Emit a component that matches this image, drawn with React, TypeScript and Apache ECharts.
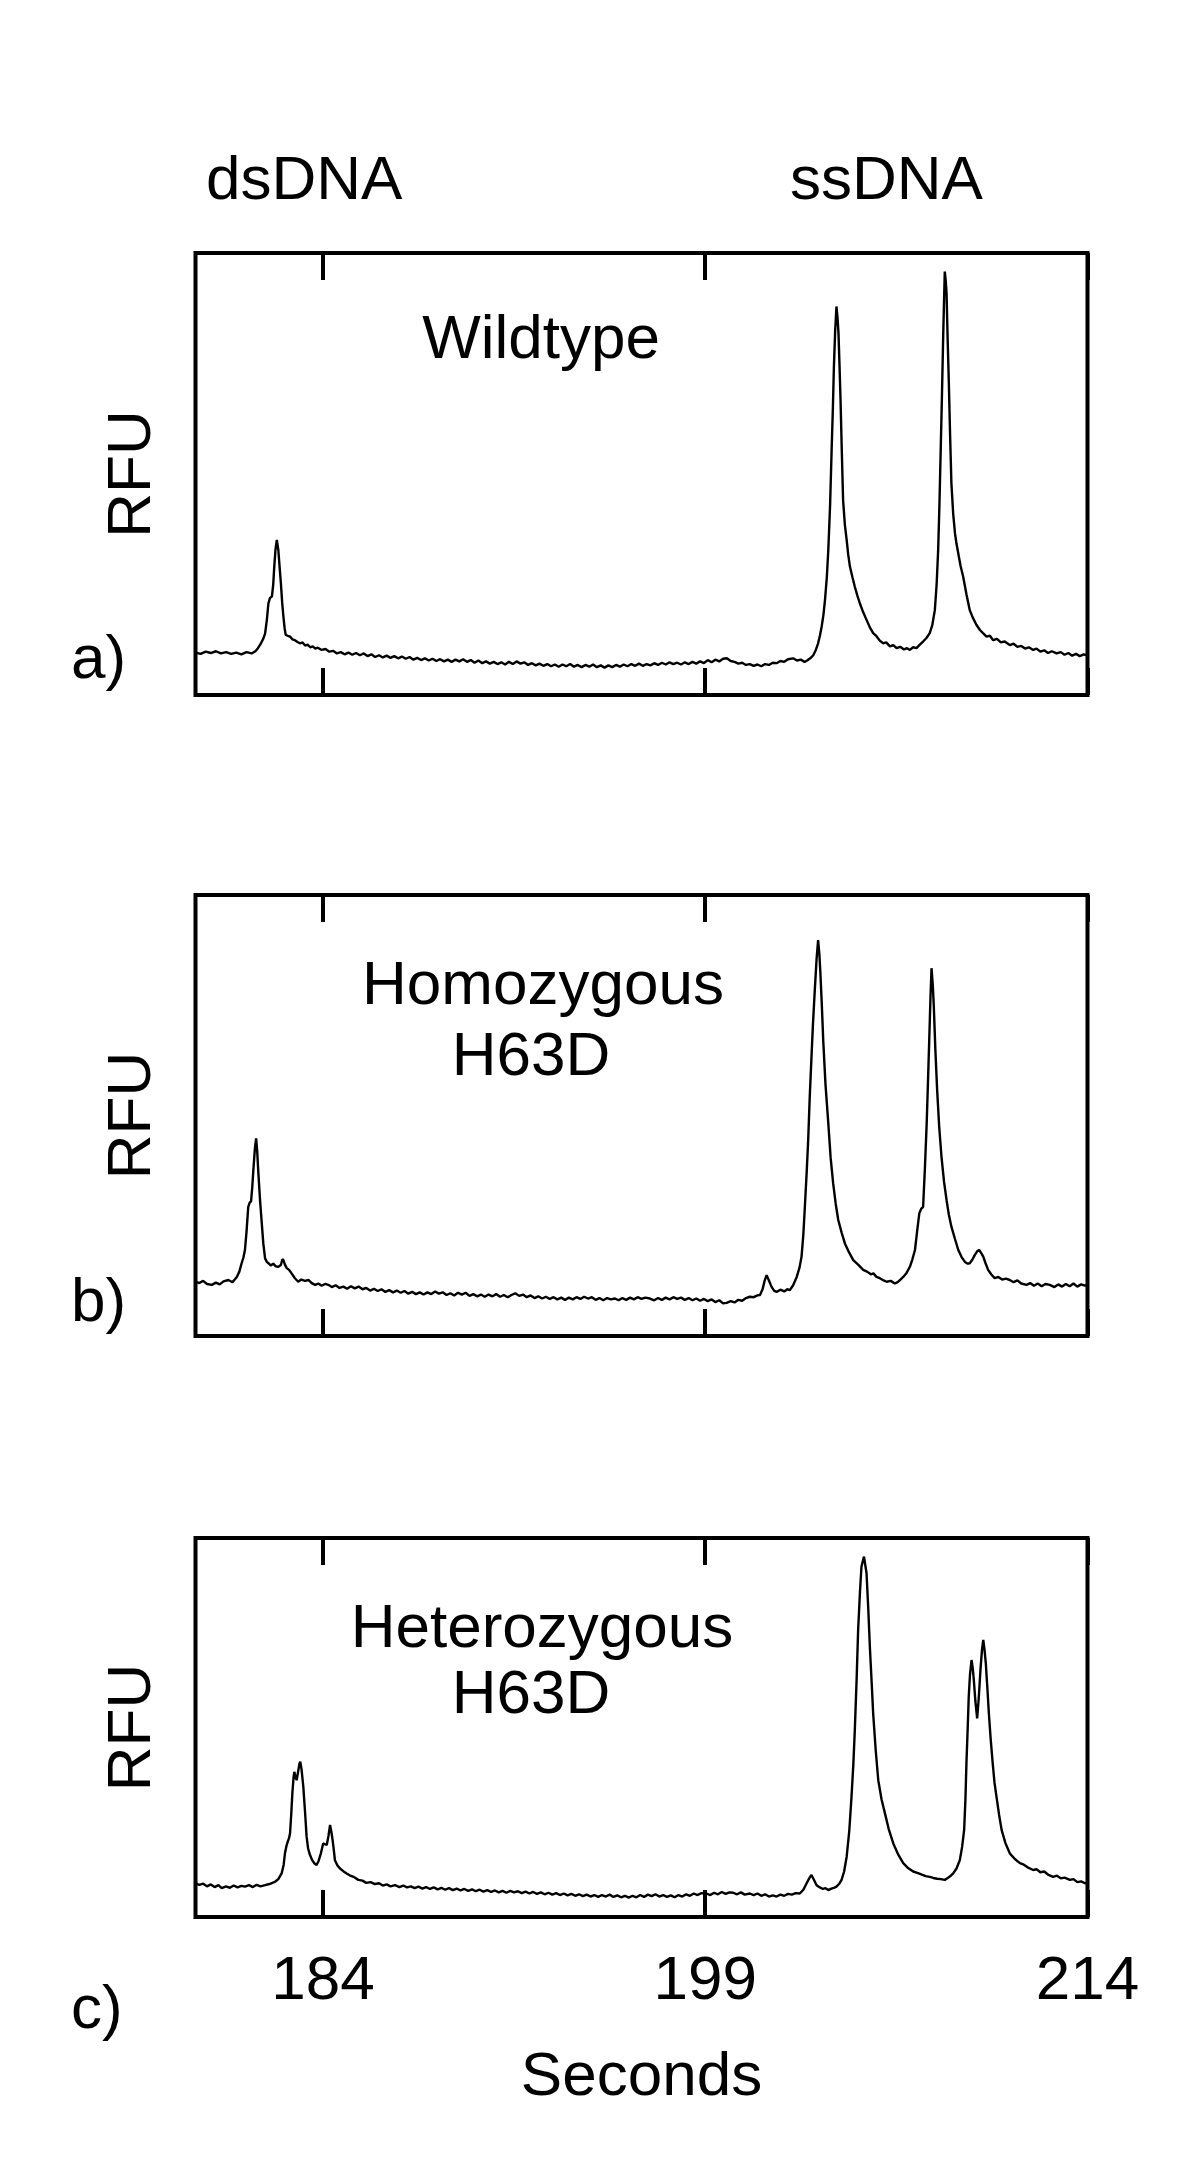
import React, { useEffect, useRef } from "react";
import * as echarts from "echarts";

const X_MIN = 179;
const X_MAX = 214;
const tickSeconds = [184, 199, 214];
const peakLabels = ["dsDNA", "ssDNA"];
const panelLetters = ["a)", "b)", "c)"];
const sampleNames = [["Wildtype"], ["Homozygous", "H63D"], ["Heterozygous", "H63D"]];

// [seconds, RFU (relative, 0-100 of panel height)]
const wildtype: [number, number][] = [
  [179.0, 9.6], [179.2, 9.3], [179.4, 9.8], [179.6, 9.5], [179.8, 9.9], [180.0, 9.4], [180.2, 9.7], [180.4, 9.3],
  [180.6, 9.6], [180.8, 9.2], [181.0, 9.7], [181.2, 9.4], [181.35, 9.9], [181.45, 10.6], [181.55, 11.5], [181.65, 12.6],
  [181.73, 13.9], [181.8, 17.0], [181.86, 20.7], [181.92, 21.9], [182.0, 22.3], [182.05, 25.0], [182.09, 29.0], [182.14, 33.0],
  [182.19, 35.1], [182.25, 32.8], [182.3, 29.0], [182.35, 25.3], [182.4, 21.0], [182.45, 17.7], [182.5, 15.0], [182.54, 13.6],
  [182.62, 13.4], [182.71, 13.2], [182.8, 12.6], [182.9, 12.4], [183.0, 12.0], [183.1, 11.7], [183.2, 11.9], [183.3, 11.2],
  [183.4, 11.4], [183.5, 10.8], [183.6, 11.0], [183.7, 10.5], [183.8, 10.7], [183.95, 10.2], [184.1, 10.4], [184.25, 9.8],
  [184.4, 10.0], [184.55, 9.4], [184.7, 9.7], [184.85, 9.2], [185.0, 9.6], [185.15, 9.1], [185.3, 9.5], [185.45, 9.0],
  [185.6, 9.4], [185.75, 8.8], [185.9, 9.2], [186.05, 8.6], [186.2, 9.0], [186.35, 8.5], [186.5, 8.9], [186.65, 8.4],
  [186.8, 8.8], [186.95, 8.3], [187.1, 8.7], [187.25, 8.2], [187.4, 8.6], [187.55, 8.0], [187.7, 8.4], [187.85, 7.9],
  [188.0, 8.3], [188.15, 7.8], [188.3, 8.2], [188.45, 7.7], [188.6, 8.1], [188.75, 7.6], [188.9, 8.0], [189.05, 7.5],
  [189.2, 8.0], [189.35, 7.6], [189.5, 8.1], [189.65, 7.5], [189.8, 7.9], [189.95, 7.3], [190.1, 7.8], [190.25, 7.2],
  [190.4, 7.6], [190.55, 7.1], [190.7, 7.5], [190.85, 7.0], [191.0, 7.4], [191.15, 6.9], [191.3, 7.5], [191.45, 7.0],
  [191.6, 7.6], [191.75, 7.1], [191.9, 7.4], [192.05, 6.8], [192.2, 7.2], [192.35, 6.7], [192.5, 7.1], [192.65, 6.6],
  [192.8, 7.0], [192.95, 6.5], [193.1, 6.9], [193.25, 6.4], [193.4, 6.9], [193.55, 6.5], [193.7, 7.0], [193.85, 6.4],
  [194.0, 6.8], [194.15, 6.3], [194.3, 6.8], [194.45, 6.4], [194.6, 6.9], [194.75, 6.3], [194.9, 6.7], [195.05, 6.2],
  [195.2, 6.7], [195.35, 6.3], [195.5, 6.8], [195.65, 6.4], [195.8, 6.9], [195.95, 6.5], [196.1, 7.0], [196.25, 6.6],
  [196.4, 7.1], [196.55, 6.6], [196.7, 7.0], [196.85, 6.7], [197.0, 7.2], [197.15, 6.8], [197.3, 7.3], [197.45, 6.9],
  [197.6, 7.4], [197.75, 7.0], [197.9, 7.3], [198.05, 6.9], [198.2, 7.4], [198.35, 7.0], [198.5, 7.5], [198.65, 7.1],
  [198.8, 7.6], [198.95, 7.2], [199.1, 7.9], [199.25, 7.4], [199.4, 8.0], [199.55, 7.6], [199.7, 8.2], [199.85, 8.3],
  [200.0, 7.7], [200.15, 7.5], [200.3, 7.1], [200.45, 7.3], [200.6, 6.8], [200.75, 7.0], [200.9, 6.6], [201.05, 6.9],
  [201.2, 6.5], [201.35, 7.0], [201.5, 6.8], [201.65, 7.3], [201.8, 7.2], [201.95, 7.7], [202.1, 7.5], [202.25, 8.1],
  [202.45, 8.3], [202.6, 7.8], [202.75, 8.0], [202.9, 7.5], [203.0, 7.8], [203.12, 8.3], [203.24, 9.0], [203.34, 10.2],
  [203.43, 11.7], [203.5, 13.4], [203.57, 15.5], [203.64, 18.2], [203.7, 21.5], [203.77, 26.5], [203.83, 32.8], [203.9, 43.0],
  [203.96, 55.4], [204.01, 65.0], [204.05, 74.3], [204.1, 82.5], [204.15, 87.9], [204.19, 85.5], [204.23, 81.8], [204.27, 74.5],
  [204.31, 66.7], [204.36, 55.0], [204.41, 44.1], [204.48, 38.5], [204.55, 35.1], [204.61, 31.8], [204.68, 29.0], [204.78, 26.6],
  [204.87, 24.5], [204.97, 22.5], [205.07, 20.7], [205.2, 18.7], [205.33, 17.0], [205.46, 15.3], [205.59, 14.0], [205.72, 13.3],
  [205.85, 12.3], [205.98, 11.7], [206.1, 11.9], [206.25, 11.0], [206.38, 11.3], [206.51, 10.6], [206.65, 10.9], [206.8, 10.3],
  [206.92, 10.6], [207.03, 10.2], [207.16, 10.8], [207.29, 10.6], [207.42, 11.4], [207.55, 12.1], [207.68, 12.9], [207.81, 14.0],
  [207.91, 15.8], [208.01, 19.2], [208.08, 25.0], [208.14, 32.8], [208.19, 43.0], [208.24, 55.4], [208.29, 68.0], [208.34, 81.8],
  [208.37, 89.0], [208.4, 95.8], [208.44, 93.5], [208.47, 90.9], [208.51, 81.0], [208.56, 70.5], [208.61, 58.5], [208.66, 47.9],
  [208.73, 41.0], [208.8, 36.6], [208.86, 34.2], [208.93, 32.0], [209.02, 29.2], [209.12, 26.8], [209.25, 22.8], [209.38, 19.2],
  [209.5, 17.5], [209.64, 15.9], [209.78, 14.7], [209.9, 14.0], [210.04, 13.2], [210.17, 13.4], [210.3, 12.4], [210.45, 12.7],
  [210.6, 11.9], [210.75, 12.1], [210.95, 11.3], [211.1, 11.6], [211.25, 10.9], [211.4, 11.1], [211.55, 10.5], [211.7, 10.8],
  [211.87, 10.2], [212.0, 10.5], [212.15, 9.8], [212.3, 10.1], [212.45, 9.5], [212.6, 9.9], [212.79, 9.4], [212.95, 9.7],
  [213.1, 9.1], [213.25, 9.5], [213.4, 8.9], [213.55, 9.3], [213.7, 8.8], [213.85, 9.2], [214.0, 8.9],
];

const homozygous: [number, number][] = [
  [179.0, 12.3], [179.15, 12.0], [179.3, 12.5], [179.45, 11.8], [179.64, 11.6], [179.8, 12.1], [179.95, 11.7], [180.1, 12.4],
  [180.29, 12.7], [180.45, 12.2], [180.62, 13.4], [180.72, 14.6], [180.81, 16.5], [180.88, 17.8], [180.94, 19.5], [181.0, 23.5],
  [181.07, 29.3], [181.13, 30.3], [181.18, 30.5], [181.23, 34.0], [181.27, 37.6], [181.33, 42.5], [181.38, 44.8], [181.42, 42.0],
  [181.46, 37.6], [181.53, 31.0], [181.6, 25.6], [181.66, 21.0], [181.73, 17.6], [181.8, 16.8], [181.86, 16.5], [181.95, 16.0],
  [182.05, 16.4], [182.15, 15.8], [182.25, 15.7], [182.35, 16.1], [182.41, 17.4], [182.45, 17.2], [182.5, 16.3], [182.58, 15.4],
  [182.67, 15.0], [182.77, 14.2], [182.9, 13.1], [183.03, 12.3], [183.15, 12.8], [183.3, 12.5], [183.43, 12.7], [183.56, 12.0],
  [183.69, 11.6], [183.82, 11.9], [183.95, 11.4], [184.08, 11.8], [184.21, 11.6], [184.35, 11.1], [184.5, 11.5], [184.65, 10.9],
  [184.8, 11.2], [184.95, 10.7], [185.1, 11.3], [185.25, 10.8], [185.4, 11.2], [185.55, 10.6], [185.7, 10.9], [185.85, 10.3],
  [186.0, 10.7], [186.15, 10.2], [186.3, 10.6], [186.45, 10.0], [186.6, 10.4], [186.75, 9.9], [186.9, 10.3], [187.05, 9.8],
  [187.2, 10.2], [187.35, 9.6], [187.5, 10.0], [187.65, 9.5], [187.8, 9.9], [187.95, 9.4], [188.1, 9.9], [188.25, 9.5],
  [188.4, 10.1], [188.55, 9.6], [188.7, 9.9], [188.85, 9.3], [189.0, 9.7], [189.15, 9.2], [189.3, 9.8], [189.45, 9.4],
  [189.6, 9.8], [189.75, 9.1], [189.9, 9.5], [190.05, 9.0], [190.2, 9.4], [190.35, 8.9], [190.5, 9.4], [190.65, 9.0],
  [190.8, 9.5], [190.95, 8.9], [191.1, 9.3], [191.25, 8.8], [191.4, 9.3], [191.55, 9.7], [191.7, 9.1], [191.85, 9.4],
  [192.0, 8.8], [192.15, 9.2], [192.3, 8.6], [192.45, 9.0], [192.6, 8.5], [192.75, 8.9], [192.9, 8.4], [193.05, 8.8],
  [193.2, 8.3], [193.35, 8.7], [193.5, 8.2], [193.65, 8.7], [193.8, 8.3], [193.95, 8.8], [194.1, 8.4], [194.25, 8.9],
  [194.4, 8.5], [194.55, 8.8], [194.7, 8.2], [194.85, 8.6], [195.0, 8.1], [195.15, 8.6], [195.3, 8.3], [195.46, 8.5],
  [195.6, 8.1], [195.75, 8.6], [195.9, 8.2], [196.05, 8.7], [196.2, 8.3], [196.35, 8.8], [196.5, 8.4], [196.65, 8.7],
  [196.83, 8.5], [197.0, 8.1], [197.15, 8.6], [197.3, 8.2], [197.45, 8.7], [197.6, 8.3], [197.75, 8.8], [197.9, 8.4],
  [198.05, 8.7], [198.2, 8.2], [198.35, 8.6], [198.5, 8.1], [198.65, 8.5], [198.8, 8.0], [198.95, 8.4], [199.1, 7.9],
  [199.25, 8.3], [199.4, 7.7], [199.55, 8.1], [199.7, 7.4], [199.84, 7.5], [200.0, 7.9], [200.15, 7.6], [200.3, 8.2],
  [200.45, 8.0], [200.6, 8.6], [200.75, 8.9], [200.9, 8.8], [201.05, 9.2], [201.15, 9.3], [201.25, 10.6], [201.33, 12.5],
  [201.41, 13.8], [201.5, 12.6], [201.6, 11.2], [201.7, 10.3], [201.8, 10.0], [201.95, 10.5], [202.1, 10.1], [202.22, 10.6],
  [202.32, 10.4], [202.45, 11.5], [202.59, 13.4], [202.7, 15.5], [202.78, 18.0], [202.85, 23.0], [202.91, 29.3], [202.98, 37.0],
  [203.04, 44.4], [203.1, 54.0], [203.17, 63.3], [203.23, 71.0], [203.3, 78.5], [203.37, 85.5], [203.43, 89.8], [203.48, 86.5],
  [203.52, 82.2], [203.58, 74.5], [203.63, 67.1], [203.72, 57.0], [203.83, 48.2], [203.92, 40.5], [204.02, 34.6], [204.12, 30.0],
  [204.22, 26.3], [204.35, 23.5], [204.48, 21.0], [204.65, 18.9], [204.81, 17.2], [205.0, 16.2], [205.2, 15.0], [205.35, 14.6],
  [205.5, 14.0], [205.6, 14.2], [205.72, 13.4], [205.85, 13.1], [206.0, 12.6], [206.12, 12.3], [206.28, 12.5], [206.44, 11.9],
  [206.55, 12.2], [206.66, 12.8], [206.77, 13.4], [206.9, 14.3], [207.03, 15.7], [207.13, 17.4], [207.23, 19.5], [207.32, 24.0],
  [207.4, 27.8], [207.48, 28.9], [207.55, 29.3], [207.62, 38.0], [207.69, 48.2], [207.74, 57.5], [207.79, 67.1], [207.84, 77.0],
  [207.88, 83.4], [207.93, 79.5], [207.97, 74.7], [208.03, 65.0], [208.1, 55.8], [208.18, 47.5], [208.27, 40.7], [208.37, 35.0],
  [208.47, 30.8], [208.56, 27.5], [208.66, 24.8], [208.8, 22.0], [208.93, 19.5], [209.06, 17.9], [209.19, 16.8], [209.3, 16.4],
  [209.38, 16.5], [209.48, 17.3], [209.58, 18.4], [209.67, 19.2], [209.75, 19.5], [209.83, 18.8], [209.91, 18.0], [210.0, 16.5],
  [210.1, 15.0], [210.22, 14.0], [210.36, 13.1], [210.5, 13.4], [210.65, 12.8], [210.8, 13.0], [210.95, 12.7], [211.1, 12.2],
  [211.25, 12.6], [211.4, 11.9], [211.61, 11.6], [211.75, 12.0], [211.9, 11.4], [212.05, 11.9], [212.2, 11.3], [212.35, 11.8],
  [212.52, 11.6], [212.7, 11.1], [212.85, 11.7], [213.0, 11.2], [213.15, 11.8], [213.3, 11.3], [213.45, 11.9], [213.6, 11.2],
  [213.75, 11.7], [213.9, 11.4], [214.0, 11.6],
];

const heterozygous: [number, number][] = [
  [179.0, 8.9], [179.15, 8.5], [179.3, 8.8], [179.45, 8.1], [179.6, 8.6], [179.75, 7.9], [179.9, 8.4], [180.03, 7.6],
  [180.2, 8.1], [180.35, 7.7], [180.5, 8.3], [180.65, 7.8], [180.8, 8.2], [180.94, 8.0], [181.1, 8.4], [181.25, 7.9],
  [181.4, 8.5], [181.55, 8.1], [181.73, 8.4], [181.9, 8.7], [182.02, 9.0], [182.12, 9.3], [182.25, 10.0], [182.38, 11.5],
  [182.46, 13.8], [182.51, 16.8], [182.57, 18.8], [182.62, 19.9], [182.67, 20.8], [182.71, 22.1], [182.76, 27.5], [182.8, 32.6],
  [182.85, 37.0], [182.88, 38.3], [182.92, 37.0], [182.97, 36.1], [183.03, 38.5], [183.08, 40.5], [183.11, 41.0], [183.16, 39.0],
  [183.23, 34.4], [183.3, 27.5], [183.36, 21.2], [183.42, 18.0], [183.49, 16.4], [183.58, 15.0], [183.67, 14.1], [183.75, 13.7],
  [183.83, 14.8], [183.92, 16.8], [184.01, 19.4], [184.08, 19.2], [184.15, 19.0], [184.22, 21.5], [184.28, 24.3], [184.33, 22.5],
  [184.38, 20.3], [184.43, 17.5], [184.47, 15.0], [184.57, 13.6], [184.67, 12.8], [184.8, 12.1], [184.93, 11.5], [185.05, 11.0],
  [185.2, 10.6], [185.39, 9.8], [185.55, 9.6], [185.7, 9.0], [185.87, 9.2], [186.04, 8.7], [186.2, 8.9], [186.35, 8.3],
  [186.5, 8.6], [186.65, 8.1], [186.83, 8.4], [187.0, 7.9], [187.15, 8.3], [187.3, 7.8], [187.45, 8.1], [187.6, 7.6],
  [187.75, 8.0], [187.9, 7.5], [188.05, 7.9], [188.2, 7.4], [188.35, 7.8], [188.5, 7.3], [188.65, 7.7], [188.8, 7.2],
  [188.95, 7.6], [189.1, 7.1], [189.25, 7.5], [189.4, 7.0], [189.55, 7.4], [189.7, 6.9], [189.85, 7.3], [190.0, 6.8],
  [190.15, 7.2], [190.3, 6.7], [190.45, 7.1], [190.6, 6.6], [190.75, 7.0], [190.9, 6.5], [191.05, 6.9], [191.2, 6.4],
  [191.35, 6.9], [191.5, 6.5], [191.65, 6.8], [191.8, 6.3], [191.95, 6.7], [192.1, 6.2], [192.25, 6.6], [192.4, 6.1],
  [192.55, 6.5], [192.7, 6.0], [192.85, 6.4], [193.0, 5.9], [193.15, 6.3], [193.3, 5.8], [193.45, 6.2], [193.6, 5.7],
  [193.75, 6.1], [193.9, 5.6], [194.05, 6.0], [194.2, 5.5], [194.35, 5.9], [194.5, 5.4], [194.65, 5.8], [194.8, 5.3],
  [194.95, 5.8], [195.1, 5.4], [195.25, 5.9], [195.4, 5.3], [195.55, 5.7], [195.7, 5.2], [195.85, 5.6], [196.0, 5.1],
  [196.15, 5.6], [196.3, 5.2], [196.45, 5.8], [196.6, 5.3], [196.75, 5.9], [196.9, 5.5], [197.05, 6.0], [197.2, 5.4],
  [197.35, 5.8], [197.5, 5.3], [197.65, 5.7], [197.8, 5.2], [197.95, 5.8], [198.1, 5.4], [198.25, 6.0], [198.4, 5.6],
  [198.55, 6.2], [198.7, 5.8], [198.85, 6.3], [199.05, 6.2], [199.2, 5.8], [199.35, 6.4], [199.5, 6.0], [199.65, 6.6],
  [199.8, 6.1], [199.95, 6.5], [200.1, 6.4], [200.25, 6.0], [200.4, 6.5], [200.55, 5.9], [200.75, 6.2], [200.9, 5.8],
  [201.05, 6.2], [201.2, 5.6], [201.35, 6.0], [201.5, 5.4], [201.65, 5.7], [201.8, 5.4], [201.95, 5.9], [202.1, 5.6],
  [202.25, 6.1], [202.4, 5.9], [202.55, 6.3], [202.71, 6.2], [202.85, 7.2], [202.98, 8.9], [203.08, 10.2], [203.17, 11.1],
  [203.26, 9.9], [203.37, 8.4], [203.5, 7.8], [203.62, 7.4], [203.72, 7.6], [203.83, 7.1], [203.95, 7.5], [204.05, 7.7],
  [204.15, 8.0], [204.25, 8.7], [204.35, 9.8], [204.45, 12.0], [204.55, 15.9], [204.65, 22.5], [204.74, 31.7], [204.81, 40.0],
  [204.87, 49.3], [204.94, 62.5], [205.0, 75.7], [205.07, 85.5], [205.13, 92.4], [205.23, 95.1], [205.33, 90.7], [205.4, 81.0],
  [205.46, 71.3], [205.53, 62.0], [205.59, 53.7], [205.69, 44.0], [205.79, 36.1], [205.92, 31.0], [206.05, 27.4], [206.2, 23.2],
  [206.38, 19.4], [206.57, 16.5], [206.77, 14.2], [206.96, 12.9], [207.16, 12.0], [207.35, 11.6], [207.5, 11.2], [207.65, 10.8],
  [207.81, 10.6], [207.95, 10.3], [208.1, 10.1], [208.25, 10.0], [208.4, 9.8], [208.5, 10.2], [208.62, 10.8], [208.73, 11.5],
  [208.86, 12.8], [208.99, 15.0], [209.08, 18.5], [209.16, 23.0], [209.21, 31.0], [209.25, 40.6], [209.3, 50.0], [209.34, 58.1],
  [209.39, 64.0], [209.45, 67.8], [209.5, 65.5], [209.54, 62.5], [209.6, 57.0], [209.67, 52.4], [209.73, 57.5], [209.8, 65.2],
  [209.86, 70.5], [209.91, 73.1], [209.96, 70.5], [210.01, 66.9], [210.07, 60.5], [210.13, 53.7], [210.2, 47.0], [210.28, 40.6],
  [210.35, 35.5], [210.43, 31.7], [210.53, 27.0], [210.63, 23.0], [210.78, 19.5], [210.95, 16.8], [211.15, 15.3], [211.35, 14.2],
  [211.5, 13.8], [211.65, 13.1], [211.87, 12.4], [212.0, 12.6], [212.15, 11.8], [212.3, 12.0], [212.45, 11.2], [212.65, 10.6],
  [212.8, 10.9], [212.95, 10.2], [213.1, 10.4], [213.31, 9.8], [213.45, 10.0], [213.6, 9.2], [213.75, 9.4], [213.9, 8.9],
  [214.0, 9.1],
];

const panelSeries = [wildtype, homozygous, heterozygous];

const FONT = '"Liberation Sans", Arial, Helvetica, sans-serif';
const FS = 62;

export default function App() {
  const ref = useRef<HTMLDivElement>(null);

  useEffect(() => {
    if (!ref.current) return;
    const chart = echarts.init(ref.current, null, { renderer: "svg" });

    const grids = [
      { left: 195.5, top: 253, width: 892, height: 442 },
      { left: 195.5, top: 895, width: 892, height: 441 },
      { left: 195.5, top: 1538, width: 892, height: 379 },
    ];

    const tickStyle = {
      show: true,
      inside: true,
      length: 27,
      customValues: tickSeconds,
      lineStyle: { color: "#000", width: 4 },
    };

    const xAxes: any[] = [];
    grids.forEach((_, i) => {
      const isLast = i === grids.length - 1;
      xAxes.push({
        type: "value",
        gridIndex: i,
        position: "bottom",
        min: X_MIN,
        max: X_MAX,
        axisLine: { show: false },
        splitLine: { show: false },
        axisTick: tickStyle,
        axisLabel: {
          show: isLast,
          customValues: tickSeconds,
          margin: 29,
          fontSize: FS,
          fontFamily: FONT,
          color: "#000",
        },
        name: isLast ? "Seconds" : "",
        nameLocation: "middle",
        nameGap: 125,
        nameTextStyle: { fontSize: FS, fontFamily: FONT, color: "#000" },
      });
      xAxes.push({
        type: "value",
        gridIndex: i,
        position: "top",
        min: X_MIN,
        max: X_MAX,
        axisLine: { show: false },
        splitLine: { show: false },
        axisTick: tickStyle,
        axisLabel: { show: false },
      });
    });

    const yAxes = grids.map((_, i) => ({
      type: "value",
      gridIndex: i,
      min: 0,
      max: 100,
      axisLine: { show: false },
      axisTick: { show: false },
      axisLabel: { show: false },
      splitLine: { show: false },
      name: "RFU",
      nameLocation: "middle",
      nameRotate: 90,
      nameGap: 36,
      nameTextStyle: { fontSize: FS, fontFamily: FONT, color: "#000" },
    }));

    const series = panelSeries.map((data, i) => ({
      type: "line",
      xAxisIndex: i * 2,
      yAxisIndex: i,
      data,
      showSymbol: false,
      symbol: "none",
      lineStyle: { color: "#000", width: 2.4 },
      silent: true,
    }));

    const txt = (text: string, x: number, y: number, align: string) => ({
      type: "text",
      x,
      y,
      silent: true,
      style: {
        text,
        font: `${FS}px ${FONT}`,
        fill: "#000",
        textAlign: align,
        textVerticalAlign: "middle",
      },
    });

    const graphic = [
      txt(peakLabels[0], 206, 177, "left"),
      txt(peakLabels[1], 790, 177, "left"),
      txt(sampleNames[0][0], 541, 336, "center"),
      txt(sampleNames[1][0], 543, 982, "center"),
      txt(sampleNames[1][1], 531, 1053, "center"),
      txt(sampleNames[2][0], 542, 1625, "center"),
      txt(sampleNames[2][1], 531, 1691, "center"),
      txt(panelLetters[0], 71, 656, "left"),
      txt(panelLetters[1], 71, 1299, "left"),
      txt(panelLetters[2], 71, 2006, "left"),
    ];

    chart.setOption({
      animation: false,
      backgroundColor: "#fff",
      grid: grids.map((g) => ({
        ...g,
        show: true,
        borderColor: "#000",
        borderWidth: 4,
        backgroundColor: "transparent",
        containLabel: false,
      })),
      xAxis: xAxes,
      yAxis: yAxes,
      series,
      graphic,
    });

    return () => chart.dispose();
  }, []);

  return (
    <div
      ref={ref}
      style={{ position: "absolute", left: 0, top: 0, width: 1199, height: 2167 }}
    />
  );
}
